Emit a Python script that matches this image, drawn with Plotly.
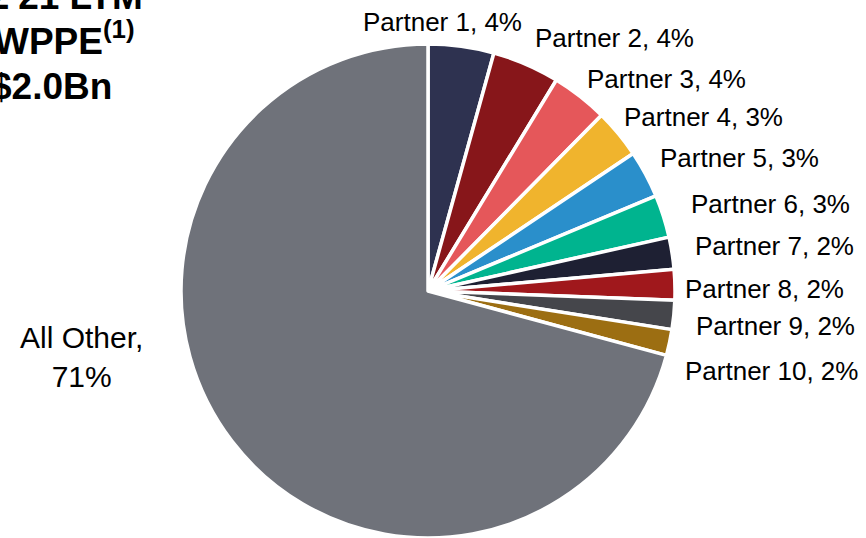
import plotly.graph_objects as go

categories = ["Partner 1", "Partner 2", "Partner 3", "Partner 4", "Partner 5",
              "Partner 6", "Partner 7", "Partner 8", "Partner 9", "Partner 10",
              "All Other"]
shares = [4.3, 4.4, 3.7, 3.2, 3.1, 2.8, 2.1, 2.0, 1.9, 1.7, 70.8]
shown_pct = [4, 4, 4, 3, 3, 3, 2, 2, 2, 2, 71]
colors = ["#2E3250", "#87161A", "#E5575A", "#F0B42D", "#2A8FCB", "#00B48F",
          "#1E2033", "#A0181C", "#45464B", "#9C6E12", "#6F727A"]

title_lines = ["Q2'21 LTM", "WPPE<sup>(1)</sup>", "$2.0Bn"]

W, H = 866, 538
FONT = "Liberation Sans, Arial, sans-serif"

# label layout (pixel positions: left edge / centre for All Other, vertical centre)
label_layout = [
    (363, 22, "left"), (535, 38, "left"), (587, 79, "left"), (624, 117, "left"),
    (660, 158, "left"), (691, 204, "left"), (695, 246, "left"), (685, 289, "left"),
    (696, 326, "left"), (685, 371, "left"), (81, 357, "center"),
]

fig = go.Figure(go.Pie(
    labels=categories,
    values=shares,
    textinfo="none",
    sort=False,
    direction="clockwise",
    rotation=0,
    marker=dict(colors=colors, line=dict(color="white", width=3.5)),
    domain=dict(x=[181 / W, 675 / W], y=[0, (H - 44) / H]),
    showlegend=False,
    hoverinfo="label+percent",
))

for cat, pct, (lx, ly, anchor) in zip(categories, shown_pct, label_layout):
    if cat == "All Other":
        txt, size = f"{cat},<br>{pct}%", 30
    else:
        txt, size = f"{cat}, {pct}%", 26
    fig.add_annotation(
        text=txt, xref="paper", yref="paper",
        x=(lx - 2 if anchor == "left" else lx) / W, y=1 - ly / H,
        xanchor=anchor, yanchor="middle", align="center",
        showarrow=False, font=dict(family=FONT, size=size, color="black"),
    )

title_pos = [(145, 8), (137, 53), (114, 98)]
for txt, (xr, yb) in zip(title_lines, title_pos):
    fig.add_annotation(
        text=f"<b>{txt}</b>", xref="paper", yref="paper",
        x=xr / W, y=1 - (yb + 11) / H, xanchor="right", yanchor="bottom",
        showarrow=False, font=dict(family=FONT, size=37, color="black"),
    )

fig.update_layout(
    width=W, height=H,
    margin=dict(l=0, r=0, t=0, b=0),
    paper_bgcolor="white", plot_bgcolor="white",
)

fig.write_html("out.html",
               config={"displayModeBar": False},
               post_script="document.body.style.margin='0';")
